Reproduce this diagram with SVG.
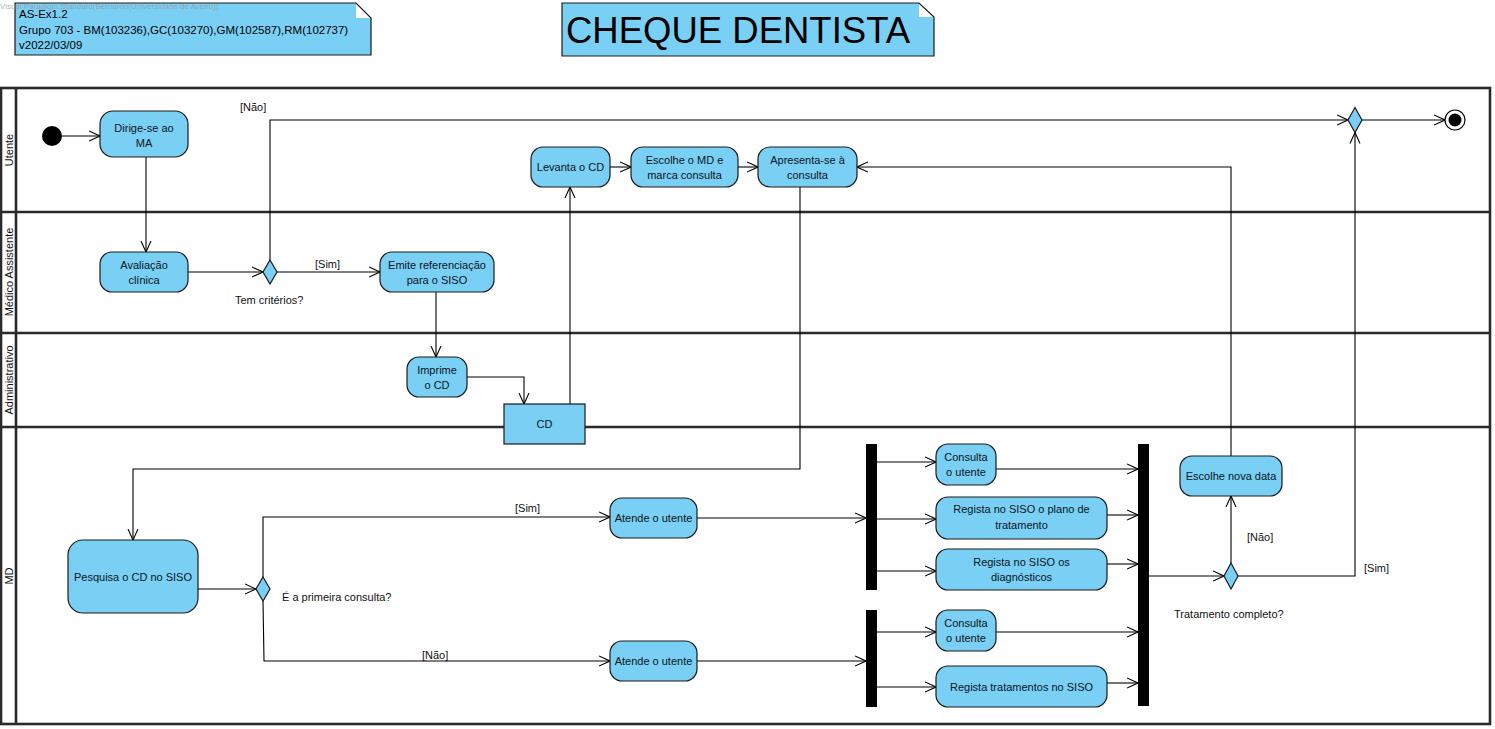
<svg xmlns="http://www.w3.org/2000/svg" width="1495" height="729" viewBox="0 0 1495 729">
<defs>
<style>
.act{fill:#7ACFF5;stroke:#1a1a1a;stroke-width:1.2}
.obj{fill:#7ACFF5;stroke:#1a1a1a;stroke-width:1.2}
.dec{fill:#7ACFF5;stroke:#1a1a1a;stroke-width:1.2}
.bar{fill:#000}
.t{font-family:"Liberation Sans",Arial,sans-serif;font-size:11px;fill:#0a1520;text-anchor:middle}
.lbl{font-family:"Liberation Sans",Arial,sans-serif;font-size:11px;fill:#111}
.lane{fill:none;stroke:#2a2a2a;stroke-width:2.6}
.lanetxt{font-family:"Liberation Sans",Arial,sans-serif;font-size:11px;fill:#111;text-anchor:middle}
.c{fill:none;stroke:#000;stroke-width:1.1;marker-end:url(#arr)}
.note{font-family:"Liberation Sans",Arial,sans-serif;fill:#000}
</style>
<marker id="arr" markerUnits="userSpaceOnUse" viewBox="0 0 12 12" refX="11" refY="6" markerWidth="12" markerHeight="12" orient="auto">
<path d="M0,1 L11,6 L0,11" fill="none" stroke="#000" stroke-width="1.1"/>
</marker>
</defs>
<rect width="1495" height="729" fill="#fff"/>

<g id="note-header">
<polygon points="15,3 356,3 356,18 371,18 371,55 15,55" fill="#7ACFF5"/>
<path d="M15,3 H356 L371,18 V55 H15 Z" fill="none" stroke="#1a1a1a" stroke-width="1.2"/>
<text class="note" x="19" y="18" font-size="11.5">AS-Ex1.2</text>
<text class="note" x="19" y="34" font-size="11.5">Grupo 703 - BM(103236),GC(103270),GM(102587),RM(102737)</text>
<text class="note" x="19" y="49" font-size="11.5">v2022/03/09</text>
</g>
<text x="0" y="9" font-family="Liberation Sans,Arial,sans-serif" font-size="8" fill="#9a9a9a" fill-opacity="0.8">Visual Paradigm Standard(Bernardo(Universidade de Aveiro))</text>

<g id="note-title">
<polygon points="562,3 919,3 919,17 934,17 934,56 562,56" fill="#7ACFF5"/>
<path d="M562,3 H919 L934,17 V56 H562 Z" fill="none" stroke="#1a1a1a" stroke-width="1.2"/>
<text class="note" x="566" y="43" font-size="36.5">CHEQUE DENTISTA</text>
</g>

<g id="swimlanes">
<rect class="lane" x="1" y="88" width="1489" height="636"/>
<line class="lane" x1="16" y1="88" x2="16" y2="724"/>
<line class="lane" x1="1" y1="212" x2="1490" y2="212"/>
<line class="lane" x1="1" y1="333" x2="1490" y2="333"/>
<line class="lane" x1="1" y1="427" x2="1490" y2="427"/>
<text class="lanetxt" transform="translate(12.5,150) rotate(-90)">Utente</text>
<text class="lanetxt" transform="translate(12.5,272) rotate(-90)">Médico Assistente</text>
<text class="lanetxt" transform="translate(12.5,380) rotate(-90)">Administrativo</text>
<text class="lanetxt" transform="translate(12.5,576) rotate(-90)">MD</text>
</g>

<g id="connectors">
<path class="c" d="M62,136 H100"/>
<path class="c" d="M146,157 V252"/>
<path class="c" d="M188,272 H263"/>
<path class="c" d="M277,272 H380"/>
<path class="c" d="M270,260 V120 H1348"/>
<path class="c" d="M436,292 V357"/>
<path class="c" d="M467,377 H524 V404"/>
<path class="c" d="M570,404 V187"/>
<path class="c" d="M610,167 H631"/>
<path class="c" d="M738,167 H758"/>
<path class="c" d="M800,187 V469 H133 V540"/>
<path class="c" d="M198,589 H256"/>
<path class="c" d="M263,577 V517 H610"/>
<path class="c" d="M263,601 L264,661 H610"/>
<path class="c" d="M697,518 H866"/>
<path class="c" d="M877,462 H936"/>
<path class="c" d="M877,519 H936"/>
<path class="c" d="M877,571 H936"/>
<path class="c" d="M996,469 H1138"/>
<path class="c" d="M1107,515 H1138"/>
<path class="c" d="M1107,564 H1138"/>
<path class="c" d="M697,661 H866"/>
<path class="c" d="M877,632 H936"/>
<path class="c" d="M877,687 H936"/>
<path class="c" d="M996,632 H1138"/>
<path class="c" d="M1107,683 H1138"/>
<path class="c" d="M1149,576 H1224"/>
<path class="c" d="M1231,563 V496"/>
<path class="c" d="M1238,576 H1355 V132.5"/>
<path class="c" d="M1231,456 V167 H857"/>
<path class="c" d="M1362,120 H1445"/>
<text class="lbl" x="240" y="111">[Não]</text>
<text class="lbl" x="315" y="268">[Sim]</text>
<text class="lbl" x="235" y="304">Tem critérios?</text>
<text class="lbl" x="515" y="512">[Sim]</text>
<text class="lbl" x="422" y="659">[Não]</text>
<text class="lbl" x="282" y="601">É a primeira consulta?</text>
<text class="lbl" x="1247" y="541">[Não]</text>
<text class="lbl" x="1364" y="572">[Sim]</text>
<text class="lbl" x="1174" y="618">Tratamento completo?</text>
</g>

<g id="initial"><circle cx="52" cy="136" r="10" fill="#000"/></g>
<g id="final"><circle cx="1455" cy="120" r="10" fill="#fff" stroke="#000" stroke-width="1.2"/><circle cx="1455" cy="120" r="6.5" fill="#000"/></g>

<g id="dirige"><rect class="act" x="100" y="111" width="88" height="46" rx="13"/><text class="t" x="144" y="132">Dirige-se ao</text><text class="t" x="144" y="147">MA</text></g>
<g id="avaliacao"><rect class="act" x="100" y="252" width="88" height="40" rx="12"/><text class="t" x="144" y="268.5">Avaliação</text><text class="t" x="144" y="283.5">clínica</text></g>
<g id="dec-criterios"><polygon class="dec" points="270,260 277,272 270,284 263,272"/></g>
<g id="emite"><rect class="act" x="380" y="252" width="114" height="40" rx="12"/><text class="t" x="437" y="268.5">Emite referenciação</text><text class="t" x="437" y="283.5">para o SISO</text></g>
<g id="imprime"><rect class="act" x="407" y="357" width="60" height="40" rx="12"/><text class="t" x="437" y="373.5">Imprime</text><text class="t" x="437" y="388.5">o CD</text></g>
<g id="cd"><rect class="obj" x="504" y="404" width="81" height="40"/><text class="t" x="544.5" y="428">CD</text></g>
<g id="levanta"><rect class="act" x="531" y="147" width="79" height="40" rx="12"/><text class="t" x="570.5" y="171">Levanta o CD</text></g>
<g id="escolhe-md"><rect class="act" x="631" y="147" width="107" height="40" rx="12"/><text class="t" x="684.5" y="163.5">Escolhe o MD e</text><text class="t" x="684.5" y="178.5">marca consulta</text></g>
<g id="apresenta"><rect class="act" x="758" y="147" width="99" height="40" rx="12"/><text class="t" x="807.5" y="163.5">Apresenta-se à</text><text class="t" x="807.5" y="178.5">consulta</text></g>
<g id="dec-final"><polygon class="dec" points="1355,107.5 1362,120 1355,132.5 1348,120"/></g>

<g id="pesquisa"><rect class="act" x="68" y="540" width="130" height="73" rx="15"/><text class="t" x="133" y="581">Pesquisa o CD no SISO</text></g>
<g id="dec-primeira"><polygon class="dec" points="263,577 270,589 263,601 256,589"/></g>
<g id="atende1"><rect class="act" x="610" y="498" width="87" height="40" rx="12"/><text class="t" x="653.5" y="522">Atende o utente</text></g>
<g id="atende2"><rect class="act" x="610" y="641" width="87" height="40" rx="12"/><text class="t" x="653.5" y="665">Atende o utente</text></g>
<g id="fork1"><rect class="bar" x="866" y="444" width="11" height="146"/></g>
<g id="fork2"><rect class="bar" x="866" y="610" width="11" height="97"/></g>
<g id="join"><rect class="bar" x="1138" y="444" width="11" height="262"/></g>
<g id="consulta1"><rect class="act" x="936" y="444" width="60" height="41" rx="12"/><text class="t" x="966" y="461">Consulta</text><text class="t" x="966" y="476">o utente</text></g>
<g id="regista-plano"><rect class="act" x="936" y="497" width="171" height="42" rx="12"/><text class="t" x="1021.5" y="513">Regista no SISO o plano de</text><text class="t" x="1021.5" y="529">tratamento</text></g>
<g id="regista-diag"><rect class="act" x="936" y="549" width="171" height="41" rx="12"/><text class="t" x="1021.5" y="566">Regista no SISO os</text><text class="t" x="1021.5" y="581">diagnósticos</text></g>
<g id="consulta2"><rect class="act" x="936" y="610" width="60" height="41" rx="12"/><text class="t" x="966" y="627">Consulta</text><text class="t" x="966" y="642">o utente</text></g>
<g id="regista-trat"><rect class="act" x="936" y="666" width="171" height="41" rx="12"/><text class="t" x="1021.5" y="690.5">Regista tratamentos no SISO</text></g>
<g id="escolhe-data"><rect class="act" x="1180" y="456" width="102" height="40" rx="12"/><text class="t" x="1231" y="480">Escolhe nova data</text></g>
<g id="dec-completo"><polygon class="dec" points="1231,563 1238,576 1231,589 1224,576"/></g>
</svg>
